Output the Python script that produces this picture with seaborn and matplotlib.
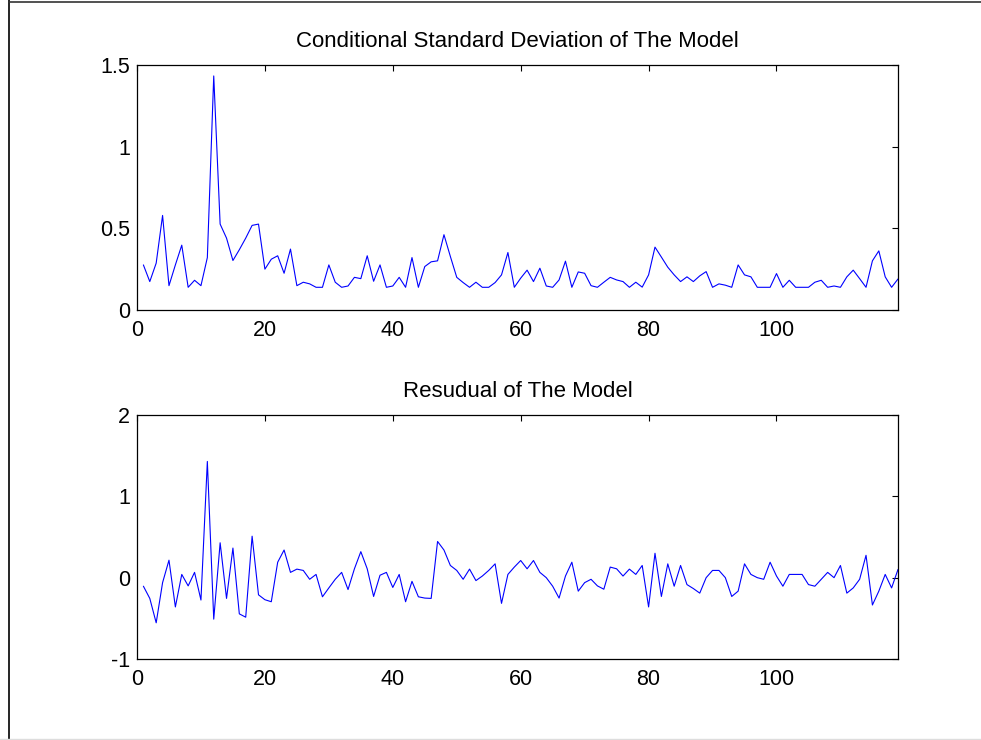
import numpy as np
import pandas as pd
import matplotlib
matplotlib.use("Agg")
import matplotlib.pyplot as plt
import seaborn as sns
from matplotlib.lines import Line2D
from matplotlib.ticker import FuncFormatter

# ---- data ----
cond_sd = [0.276, 0.174, 0.287, 0.579, 0.149, 0.276, 0.397, 0.139, 0.182, 0.149,
           0.321, 1.433, 0.526, 0.440, 0.303, 0.369, 0.440, 0.518, 0.526, 0.250,
           0.311, 0.332, 0.225, 0.373, 0.149, 0.170, 0.160, 0.139, 0.139, 0.276,
           0.170, 0.139, 0.147, 0.200, 0.192, 0.332, 0.176, 0.276, 0.139, 0.147,
           0.200, 0.139, 0.321, 0.139, 0.266, 0.295, 0.301, 0.461, 0.328, 0.200,
           0.168, 0.139, 0.170, 0.139, 0.139, 0.168, 0.215, 0.352, 0.139, 0.195,
           0.244, 0.174, 0.256, 0.147, 0.139, 0.184, 0.299, 0.139, 0.233, 0.225,
           0.149, 0.139, 0.170, 0.200, 0.184, 0.174, 0.139, 0.170, 0.140, 0.215,
           0.385, 0.324, 0.262, 0.215, 0.174, 0.203, 0.174, 0.209, 0.235, 0.139,
           0.160, 0.152, 0.139, 0.276, 0.215, 0.203, 0.139, 0.139, 0.139, 0.223,
           0.139, 0.182, 0.139, 0.139, 0.139, 0.170, 0.182, 0.139, 0.147, 0.139,
           0.203, 0.244, 0.192, 0.139, 0.301, 0.362, 0.203, 0.139, 0.190]

residual = [-0.105, -0.255, -0.555, -0.061, 0.215, -0.360, 0.040, -0.101, 0.065, -0.275,
            1.429, -0.510, 0.429, -0.255, 0.364, -0.445, -0.486, 0.510, -0.211, -0.271,
            -0.296, 0.190, 0.340, 0.065, 0.105, 0.089, -0.020, 0.040, -0.235, -0.126,
            -0.020, 0.065, -0.146, 0.109, 0.320, 0.109, -0.231, 0.030, 0.065, -0.120,
            0.040, -0.296, -0.045, -0.235, -0.251, -0.255, 0.445, 0.340, 0.150, 0.089,
            -0.020, 0.105, -0.036, 0.020, 0.089, 0.170, -0.316, 0.040, 0.130, 0.211,
            0.109, 0.211, 0.065, 0.000, -0.105, -0.251, 0.020, 0.190, -0.166, -0.061,
            -0.020, -0.101, -0.142, 0.130, 0.109, 0.020, 0.105, 0.040, 0.150, -0.360,
            0.300, -0.231, 0.170, -0.105, 0.150, -0.085, -0.134, -0.190, 0.000, 0.089,
            0.089, 0.000, -0.231, -0.166, 0.170, 0.040, 0.000, -0.020, 0.190, 0.020,
            -0.105, 0.040, 0.040, 0.040, -0.085, -0.105, -0.020, 0.065, 0.000, 0.150,
            -0.190, -0.126, -0.020, 0.275, -0.336, -0.166, 0.040, -0.126, 0.101]

obs = list(range(1, len(cond_sd) + 1))
titles = ["Conditional Standard Deviation of The Model", "Resudual of The Model"]
xticks = [0, 20, 40, 60, 80, 100]
yticks_top = [0, 0.5, 1, 1.5]
yticks_bot = [-1, 0, 1, 2]

sns.set_style("white")
plt.rcParams["font.family"] = ["Liberation Sans", "DejaVu Sans"]
plt.rcParams["text.color"] = "black"
plt.rcParams["axes.titlecolor"] = "black"

fig = plt.figure(figsize=(9.81, 7.40), dpi=100)
W, H = 981, 740
ax1 = fig.add_axes([137 / W, 1 - 310 / H, (898 - 137) / W, (310 - 65) / H])
ax2 = fig.add_axes([137 / W, 1 - 659 / H, (898 - 137) / W, (659 - 415) / H])

df = pd.DataFrame({"obs": obs, "sd": cond_sd, "res": residual})
sns.lineplot(data=df, x="obs", y="sd", ax=ax1, color="#0000ff", linewidth=0.8)
sns.lineplot(data=df, x="obs", y="res", ax=ax2, color="#0000ff", linewidth=0.8)

fmt = FuncFormatter(lambda v, p: "%g" % v)
for ax, title, yt in [(ax1, titles[0], yticks_top), (ax2, titles[1], yticks_bot)]:
    ax.set_xlim(0, 119)
    ax.set_ylim(yt[0], yt[-1])
    ax.set_xticks(xticks)
    ax.set_yticks(yt)
    ax.xaxis.set_major_formatter(fmt)
    ax.yaxis.set_major_formatter(fmt)
    ax.set_xlabel("")
    ax.set_ylabel("")
    ax.set_title(title, fontsize=16, pad=13, color="black")
    ax.tick_params(direction="in", length=4, width=0.8, top=True, right=True,
                   labelsize=15.5, colors="black")
    ax.tick_params(axis="x", pad=7)
    ax.tick_params(axis="y", pad=5)
    for s in ax.spines.values():
        s.set_visible(True)
        s.set_color("black")
        s.set_linewidth(0.9)

# outer frame of the figure window
fig.add_artist(Line2D([8.5 / W, 8.5 / W], [0, 1], transform=fig.transFigure, color="black", lw=1.2))
fig.add_artist(Line2D([8.5 / W, 1], [1 - 1.5 / H, 1 - 1.5 / H], transform=fig.transFigure, color="#333333", lw=1.2))
fig.add_artist(Line2D([0, 1], [1.5 / H, 1.5 / H], transform=fig.transFigure, color="#dddddd", lw=1.0))

fig.savefig("out.png", dpi=100)
